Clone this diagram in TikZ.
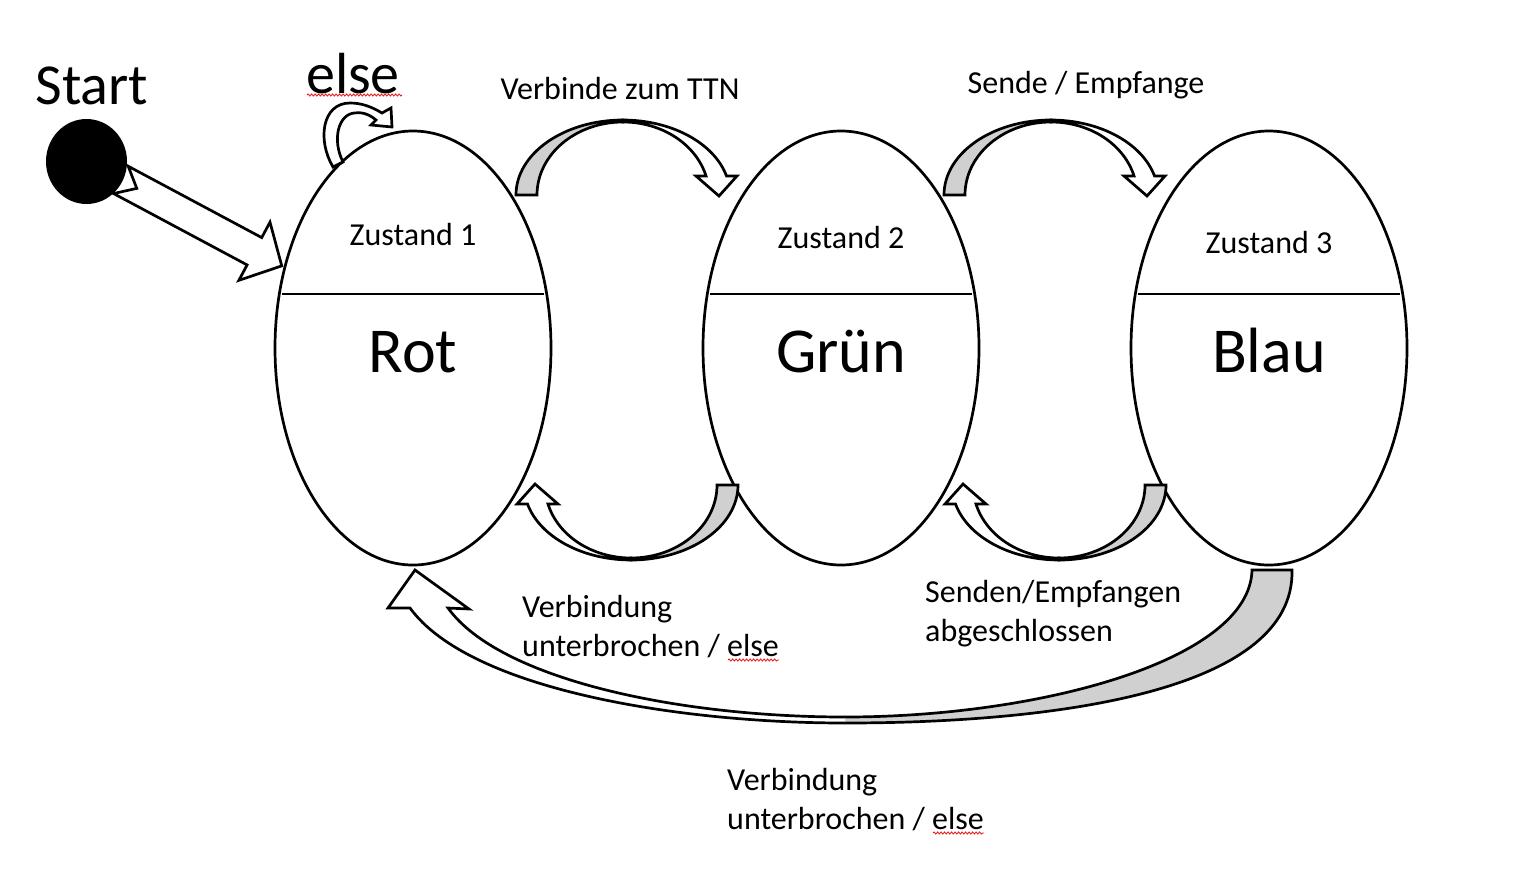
\documentclass[tikz,border=0pt]{standalone}
\usepackage{fontspec}
\setmainfont{Carlito}
\usetikzlibrary{calc,shapes.geometric,backgrounds,decorations.pathmorphing}
\definecolor{backgrey}{RGB}{208,208,208}
\definecolor{spellred}{RGB}{230,30,30}

\begin{document}
\begin{tikzpicture}[x=1bp,y=1bp,line join=miter,
  state/.style={draw,ellipse,line width=2.7bp,minimum width=276bp,minimum height=434bp,
    inner sep=0pt,outer sep=0pt,text height=48bp,text depth=0pt,font=\fontsize{64bp}{77bp}\selectfont},
  lbl/.style={inner sep=0pt,font=\fontsize{32bp}{39bp}\selectfont},
  biglbl/.style={inner sep=0pt,font=\fontsize{58bp}{70bp}\selectfont},
  band/.style={draw,line width=2.7bp,fill=white},
  backband/.style={draw,line width=2.7bp,fill=backgrey},
  squiggle/.style={spellred,line width=0.9bp,decorate,decoration={snake,amplitude=1bp,segment length=3.5bp}},
  bendarrow/.pic={
    \path[backband] (-111,153) arc[start angle=180,end angle=90,x radius=107,y radius=75]
      -- (-4,226) arc[start angle=90,end angle=180,x radius=86,y radius=73] -- cycle;
    \path[band] (-4,226) arc[start angle=90,end angle=15.1,x radius=86,y radius=73]
      -- (69,172) -- (92,152) -- (110,172) -- (99.5,172)
      arc[start angle=14.7,end angle=90,x radius=107,y radius=75] -- cycle;
  }]
\useasboundingbox (0,0) rectangle (1513,-891);
%%
  % Node: start
  \node[biglbl,anchor=base] (startlbl) at (92,-104) {Start};
  \node[fill=black,ellipse,minimum width=81bp,minimum height=85bp,inner sep=0pt] (start) at (86.5,-161.5) {};
  % Node: rot, gruen, blau
  \node[state] (rot) at (413,-348) {Rot};
  \node[state] (gruen) at (841,-348) {Grün};
  \node[state] (blau) at (1269,-348) {Blau};
  \foreach \s/\n/\dy in {rot/1/103,gruen/2/100,blau/3/95} {
    \node[lbl,anchor=base] (z\n) at ([yshift=\dy bp]\s.center) {Zustand \n};
    \draw[line width=2bp] ([shift={(-131,54)}]\s.center) -- ([shift={(131,54)}]\s.center);
  }
  % Edge: start -> rot
  \coordinate (tip) at ([shift={(-3,2)}]rot.148);
  \coordinate (tail) at ($(start.center)!39bp!(tip)$);
  \coordinate (neck) at ($(tip)!31bp!(tail)$);
\begin{scope}[on background layer]
  \path[band] ($(tail)!15.5bp!90:(tip)$) -- ($(neck)!15.5bp!-90:(tail)$) -- ($(neck)!33bp!-90:(tail)$)
    -- (tip) -- ($(neck)!33bp!90:(tail)$) -- ($(neck)!15.5bp!90:(tail)$)
    -- ($(tail)!15.5bp!-90:(tip)$) -- ($(tail)!18bp!(tip)$) -- cycle;
\end{scope}
  % Edge: rot -> rot
\begin{scope}[shift={(rot.center)}]
  \path[band] (-80,181) .. controls (-96,208) and (-91,245) .. (-63,245)
    .. controls (-51,245) and (-41,241) .. (-31,235) -- (-22,240) -- (-21,221) -- (-42,223) -- (-37,228)
    .. controls (-45,235) and (-53,236) .. (-59,235) .. controls (-75,233) and (-81,208) .. (-70,186) -- cycle;
\end{scope}
  % Edge: rot -> gruen, gruen -> blau
  \pic at ($(rot.east)!.5!(gruen.west)$) {bendarrow};
  \pic at ($(gruen.east)!.5!(blau.west)$) {bendarrow};
  % Edge: gruen -> rot, blau -> gruen
  \pic[rotate=180] at ($(rot.east)!.5!(gruen.west)+(0,16)$) {bendarrow};
  \pic[rotate=180] at ($(gruen.east)!.5!(blau.west)+(0,16)$) {bendarrow};
  % Edge: blau -> rot
  \coordinate (bt) at ($(rot.south)!.5!(blau.south)$);
  \path[backband] ([shift={(4,-158)}]bt) .. controls ([shift={(219,-158)}]bt) and ([shift={(26,-125)}]blau.south)
    .. ([shift={(23,-5)}]blau.south) -- ([shift={(-17,-5)}]blau.south)
    .. controls ([shift={(-19,-95)}]blau.south) and ([shift={(199,-152)}]bt) .. ([shift={(4,-152)}]bt);
  \path[band] ([shift={(4,-152)}]bt) .. controls ([shift={(-161,-152)}]bt) and ([shift={(87,-115)}]rot.south)
    .. ([shift={(35,-43)}]rot.south) -- ([shift={(56,-44)}]rot.south) -- ([shift={(2,-5)}]rot.south)
    -- ([shift={(-25,-43)}]rot.south) -- ([shift={(-3,-43)}]rot.south)
    .. controls ([shift={(57,-125)}]rot.south) and ([shift={(-161,-158)}]bt) .. ([shift={(4,-158)}]bt);
  % Labels
  \node[biglbl,anchor=base] (elselbl) at (353,-93) {else};
  \node[lbl,anchor=base] (ttnlbl) at (620,-99) {Verbinde zum TTN};
  \node[lbl,anchor=base] (sendlbl) at (1086,-93) {Sende / Empfange};
  \node[lbl,anchor=base west,align=left] (lostlbl) at (522,-656) {Verbindung\\unterbrochen / else};
  \node[lbl,anchor=base west,align=left] (donelbl) at (925,-641) {Senden/Empfangen\\abgeschlossen};
  \node[lbl,anchor=base west,align=left] (lostlbl2) at (727,-829) {Verbindung\\unterbrochen / else};
  % spell check marks
  \draw[squiggle] (307,-95) -- (402,-95);
  \draw[squiggle] (728,-660) -- (779,-660);
  \draw[squiggle] (933,-833) -- (984,-833);
%
\end{tikzpicture}
\end{document}
